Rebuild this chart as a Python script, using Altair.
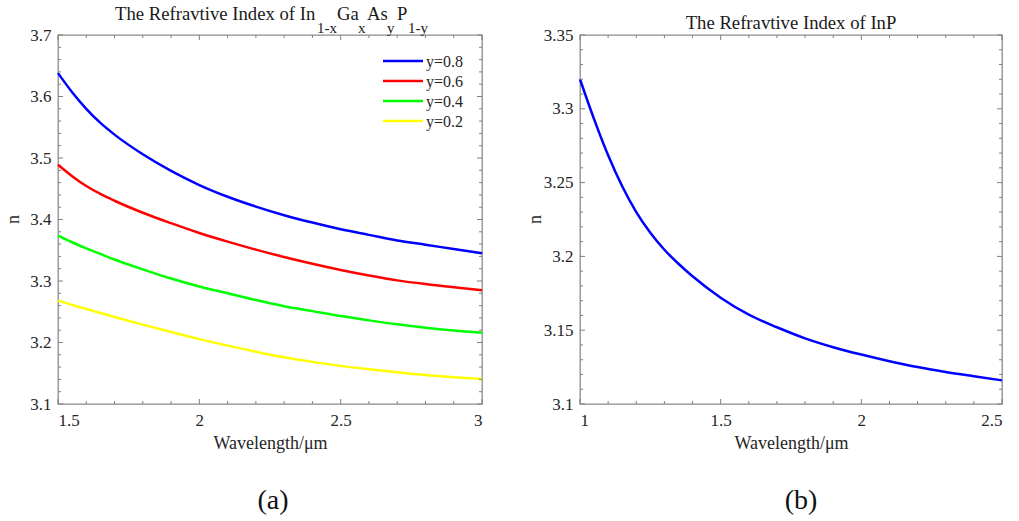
import altair as alt
import pandas as pd
import numpy as np

# ---- panel (a): InGaAsP, n versus wavelength for four As fractions ----
wl_a = [1.5, 1.55, 1.6, 1.65, 1.7, 1.8, 1.9, 2.0, 2.1, 2.2, 2.3, 2.4, 2.5, 2.6, 2.7, 2.8, 2.9, 3.0]
n_y08 = [3.638, 3.607, 3.580, 3.557, 3.538, 3.506, 3.479, 3.456, 3.437, 3.421, 3.407, 3.395, 3.384, 3.375, 3.366, 3.359, 3.352, 3.345]
n_y06 = [3.489, 3.4705, 3.4545, 3.4415, 3.4305, 3.411, 3.394, 3.378, 3.364, 3.351, 3.339, 3.328, 3.318, 3.309, 3.301, 3.295, 3.290, 3.285]
n_y04 = [3.374, 3.363, 3.353, 3.344, 3.335, 3.319, 3.304, 3.291, 3.280, 3.269, 3.259, 3.251, 3.243, 3.236, 3.2295, 3.224, 3.2195, 3.216]
n_y02 = [3.268, 3.261, 3.2545, 3.248, 3.2415, 3.229, 3.217, 3.2055, 3.195, 3.185, 3.176, 3.1685, 3.162, 3.1565, 3.1515, 3.147, 3.1435, 3.1405]
series_names = ["y=0.8", "y=0.6", "y=0.4", "y=0.2"]
series_colors = ["#0000ff", "#ff0000", "#00ff00", "#ffff00"]

# ---- panel (b): InP ----
wl_b = [1.0, 1.05, 1.1, 1.15, 1.2, 1.25, 1.3, 1.35, 1.4, 1.5, 1.6, 1.7, 1.8, 1.9, 2.0, 2.1, 2.2, 2.3, 2.4, 2.5]
n_inp = [3.320, 3.293, 3.2685, 3.2475, 3.230, 3.216, 3.2045, 3.195, 3.1865, 3.172, 3.1605, 3.152, 3.1445, 3.1385, 3.1335, 3.129, 3.125, 3.1217, 3.1188, 3.116]

xticks_a = [1.5, 2, 2.5, 3]
yticks_a = [3.1, 3.2, 3.3, 3.4, 3.5, 3.6, 3.7]
xticks_b = [1, 1.5, 2, 2.5]
yticks_b = [3.1, 3.15, 3.2, 3.25, 3.3, 3.35]

FONT = "Liberation Serif"
TXT = "#262626"
TICK = "#808080"
W_A, W_B, H = 424, 422, 369

df_a = pd.concat(
    [pd.DataFrame({"wl": wl_a, "n": v, "series": s})
     for s, v in zip(series_names, [n_y08, n_y06, n_y04, n_y02])],
    ignore_index=True,
)
df_b = pd.DataFrame({"wl": wl_b, "n": n_inp})


def axis_x(values, title):
    return alt.Axis(values=values, format="~g", ticks=False, domain=False, grid=False,
                    labelFont=FONT, labelFontSize=17, labelColor=TXT, labelPadding=8,
                    labelOverlap=False, title=title, titleFont=FONT, titleFontSize=18,
                    titleFontWeight="normal", titleColor=TXT, titlePadding=6)


def axis_y(values):
    return alt.Axis(values=values, format="~g", ticks=False, domain=False, grid=False,
                    labelFont=FONT, labelFontSize=17, labelColor=TXT, labelPadding=7,
                    labelOverlap=False, title=None)


def y_title(height):
    # rotated "n" label to the left of the value labels
    return alt.Chart(pd.DataFrame({"t": ["n"]})).mark_text(
        align="center", baseline="middle", angle=270, font=FONT, fontSize=18, color=TXT).encode(
        x=alt.value(-44), y=alt.value(height / 2), text="t:N")


def frame_ticks(xs, ys, xmaj, ymaj, width, height):
    """Inward tick marks on all four sides of the plot box."""
    layers = []
    for major in (True, False):
        sel = [v for v in xs if (round(v / xmaj, 6) % 1 == 0) == major]
        L = 5 if major else 3
        d = pd.DataFrame({"v": sel})
        for y0, y1 in ((height, height - L), (0, L)):
            layers.append(alt.Chart(d).mark_rule(color=TICK, strokeWidth=1).encode(
                x=alt.X("v:Q"), y=alt.value(y0), y2=alt.value(y1)))
    for major in (True, False):
        sel = [v for v in ys if (round(v / ymaj, 6) % 1 == 0) == major]
        L = 5 if major else 3
        d = pd.DataFrame({"v": sel})
        for x0, x1 in ((0, L), (width, width - L)):
            layers.append(alt.Chart(d).mark_rule(color=TICK, strokeWidth=1).encode(
                y=alt.Y("v:Q"), x=alt.value(x0), x2=alt.value(x1)))
    return layers


# ---------- panel (a) ----------
xs_a = alt.Scale(domain=[1.5, 3.0], nice=False, zero=False)
ys_a = alt.Scale(domain=[3.1, 3.7], nice=False, zero=False)

lines_a = alt.Chart(df_a).mark_line(strokeWidth=2.5, interpolate="monotone").encode(
    x=alt.X("wl:Q", scale=xs_a, axis=axis_x(xticks_a, "Wavelength/μm")),
    y=alt.Y("n:Q", scale=ys_a, axis=axis_y(yticks_a)),
    color=alt.Color("series:N", scale=alt.Scale(domain=series_names, range=series_colors), legend=None),
    detail="series:N",
)

ticks_a = frame_ticks(list(np.round(np.arange(1.5, 3.0001, 0.1), 2)),
                      list(np.round(np.arange(3.1, 3.7001, 0.02), 2)),
                      0.5, 0.1, W_A, H)

legend_layers = []
for i, (name, col) in enumerate(zip(series_names, series_colors)):
    d = pd.DataFrame({"label": [name]})
    yy = 26 + 20 * i
    legend_layers.append(alt.Chart(d).mark_rule(color=col, strokeWidth=2.5).encode(
        x=alt.value(325), x2=alt.value(365), y=alt.value(yy)))
    legend_layers.append(alt.Chart(d).mark_text(
        align="left", baseline="middle", font=FONT, fontSize=16, color=TXT).encode(
        x=alt.value(368), y=alt.value(yy + 1), text="label:N"))

# title with subscripts: (text, font size, left x, baseline y)
title_parts = [
    ("The Refravtive Index of In", 18.7, 57, -15),
    ("1-x", 15, 259, -2),
    ("Ga", 18.7, 279, -15),
    ("x", 15, 300, -2),
    ("As", 18.7, 309, -15),
    ("y", 15, 329, -2),
    ("P", 18.7, 339, -15),
    ("1-y", 15, 350, -2),
]
title_a = [
    alt.Chart(pd.DataFrame({"t": [t]})).mark_text(
        align="left", baseline="alphabetic", font=FONT, fontSize=fs, color="#1a1a1a").encode(
        x=alt.value(x0), y=alt.value(y0), text="t:N")
    for t, fs, x0, y0 in title_parts
]
tag_a = alt.Chart(pd.DataFrame({"t": ["(a)"]})).mark_text(
    align="center", baseline="alphabetic", font=FONT, fontSize=28, color="#111").encode(
    x=alt.value(215), y=alt.value(H + 105), text="t:N")

panel_a = alt.layer(lines_a, *ticks_a, *legend_layers, *title_a, tag_a, y_title(H)).properties(
    width=W_A, height=H)

# ---------- panel (b) ----------
xs_b = alt.Scale(domain=[1.0, 2.5], nice=False, zero=False)
ys_b = alt.Scale(domain=[3.1, 3.35], nice=False, zero=False)

line_b = alt.Chart(df_b).mark_line(strokeWidth=2.5, interpolate="monotone", color="#0000ff").encode(
    x=alt.X("wl:Q", scale=xs_b, axis=axis_x(xticks_b, "Wavelength/μm")),
    y=alt.Y("n:Q", scale=ys_b, axis=axis_y(yticks_b)),
)
ticks_b = frame_ticks(list(np.round(np.arange(1.0, 2.5001, 0.1), 2)),
                      list(np.round(np.arange(3.1, 3.3501, 0.01), 2)),
                      0.5, 0.05, W_B, H)
title_b = alt.Chart(pd.DataFrame({"t": ["The Refravtive Index of InP"]})).mark_text(
    align="center", baseline="alphabetic", font=FONT, fontSize=18.7, color="#1a1a1a").encode(
    x=alt.value(W_B / 2), y=alt.value(-6.5), text="t:N")
tag_b = alt.Chart(pd.DataFrame({"t": ["(b)"]})).mark_text(
    align="center", baseline="alphabetic", font=FONT, fontSize=28, color="#111").encode(
    x=alt.value(221), y=alt.value(H + 105), text="t:N")

panel_b = alt.layer(line_b, *ticks_b, title_b, tag_b, y_title(H)).properties(width=W_B, height=H)

chart = alt.hconcat(panel_a, panel_b, spacing=38).properties(
    padding={"left": 4, "top": 4, "right": 0, "bottom": 0},
    background="white",
).configure_view(stroke="#8c8c8c", strokeWidth=1.3)

chart.save("out.html", embed_options={"renderer": "svg", "actions": False})
